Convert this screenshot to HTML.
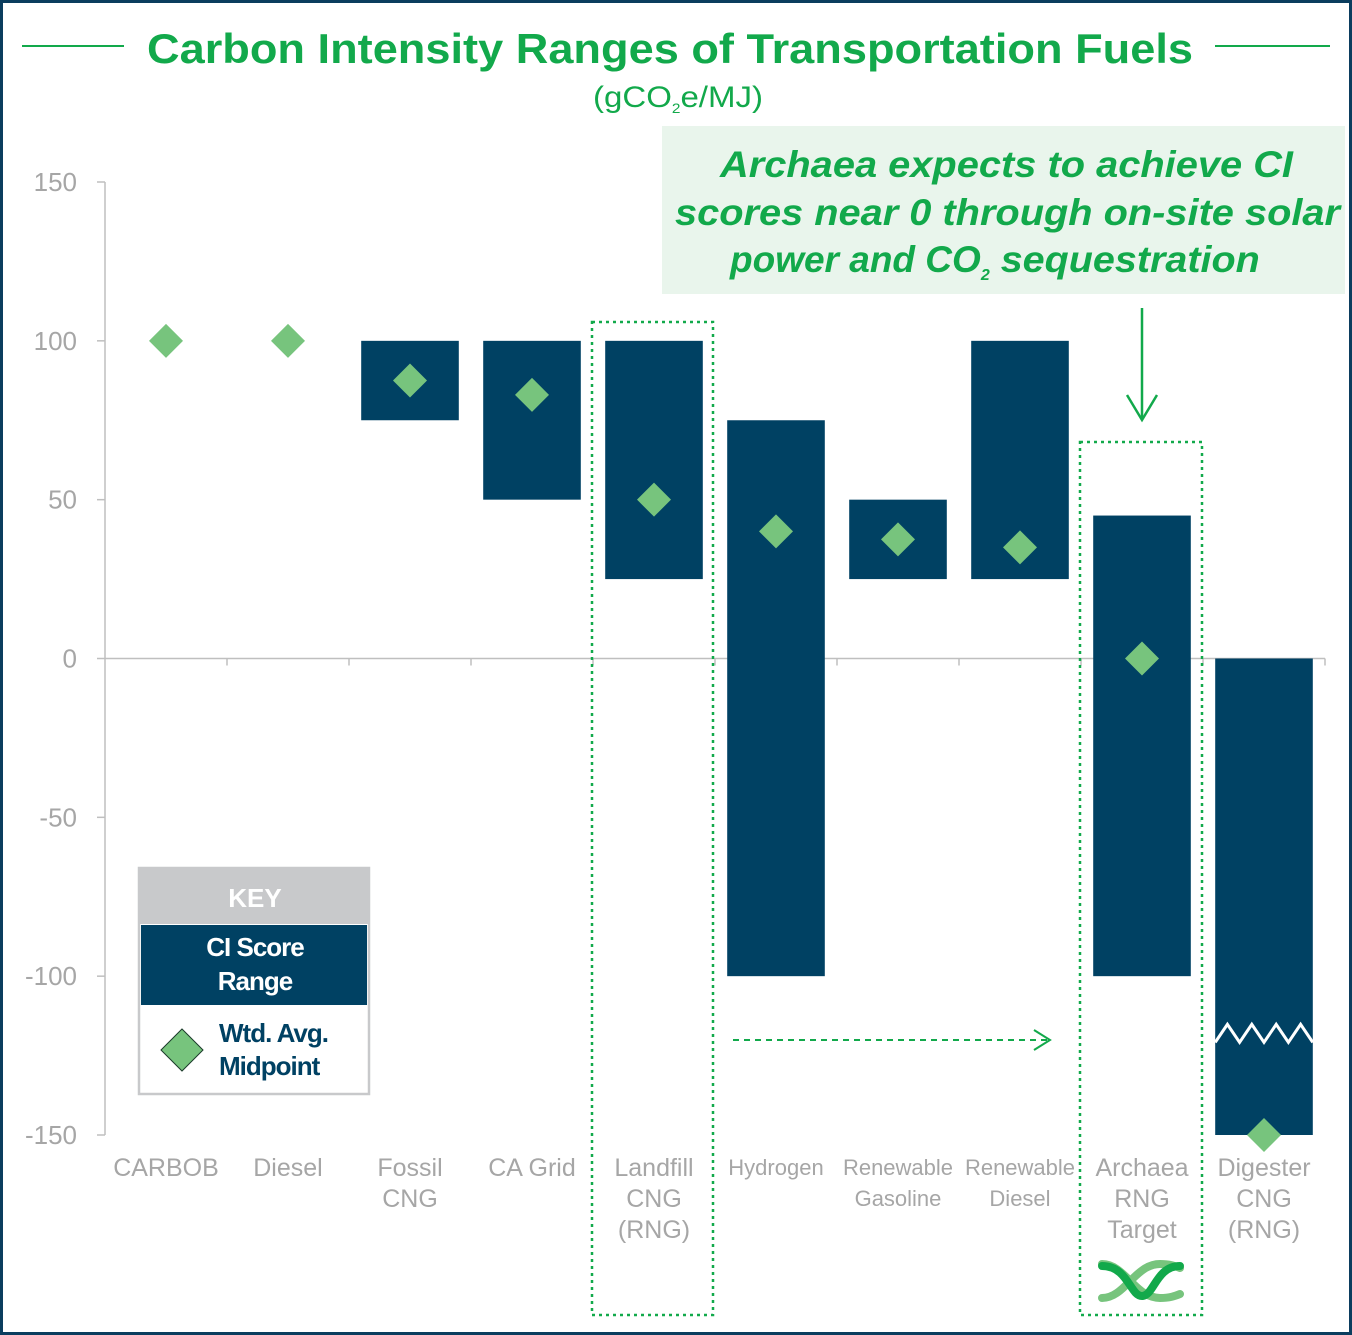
<!DOCTYPE html>
<html><head><meta charset="utf-8"><style>
html,body{margin:0;padding:0;background:#fff}
svg{display:block;font-family:"Liberation Sans",sans-serif}
</style></head><body>
<svg id="chart" width="1352" height="1335" viewBox="0 0 1352 1335" xmlns="http://www.w3.org/2000/svg">
<rect x="1.5" y="1.5" width="1349" height="1332" fill="#fff" stroke="#0b3d5e" stroke-width="3"/>
<line x1="22" y1="46" x2="124" y2="46" stroke="#12a94b" stroke-width="2"/>
<line x1="1215" y1="46" x2="1330" y2="46" stroke="#12a94b" stroke-width="2"/>
<text x="147" y="63" font-size="42" font-weight="bold" fill="#12a94b" textLength="1046" lengthAdjust="spacingAndGlyphs">Carbon Intensity Ranges of Transportation Fuels</text>
<text x="593" y="107" font-size="30" fill="#12a94b" textLength="170" lengthAdjust="spacingAndGlyphs">(gCO<tspan font-size="14" dy="6">2</tspan><tspan dy="-6">e/MJ)</tspan></text>
<rect x="662" y="126" width="683" height="168" fill="#e9f5ec"/>
<g font-size="37" font-weight="bold" font-style="italic" fill="#12a94b">
<text x="720" y="177" textLength="573" lengthAdjust="spacingAndGlyphs">Archaea expects to achieve CI</text>
<text x="675" y="225" textLength="665" lengthAdjust="spacingAndGlyphs">scores near 0 through on-site solar</text>
<text x="730" y="272">power and CO<tspan font-size="16" dy="8">2</tspan><tspan dy="-8" textLength="270" lengthAdjust="spacingAndGlyphs"> sequestration</tspan></text>
</g>
<g id="axes"></g>
<g id="marks"></g>
<rect x="592" y="322" width="121" height="993" fill="none" stroke="#12a94b" stroke-width="2.5" stroke-dasharray="3,4"/>
<rect x="1080" y="442" width="122" height="873" fill="none" stroke="#12a94b" stroke-width="2.5" stroke-dasharray="3,4"/>
<g stroke="#12a94b" stroke-width="2.5" fill="none">
<line x1="1142" y1="308" x2="1142" y2="420"/><polyline points="1127,395 1142,420 1157,395"/></g>
<g stroke="#12a94b" stroke-width="2" fill="none">
<line x1="733" y1="1040" x2="1048" y2="1040" stroke-dasharray="6,5"/><polyline points="1034,1030 1050,1040 1034,1050"/></g>
<g>
<rect x="139" y="868" width="230" height="226" fill="#fff" stroke="#c8c9cb" stroke-width="2.5"/>
<rect x="139" y="868" width="230" height="56" fill="#c8c9cb"/>
<text x="255" y="907" font-size="26" font-weight="bold" fill="#fff" text-anchor="middle">KEY</text>
<rect x="141" y="925" width="226" height="80" fill="#004163"/>
<text x="255" y="956" font-size="26" font-weight="bold" fill="#fff" text-anchor="middle" letter-spacing="-1">CI Score</text>
<text x="255" y="990" font-size="26" font-weight="bold" fill="#fff" text-anchor="middle" letter-spacing="-1">Range</text>
<polygon points="182,1029 203,1050 182,1071 161,1050" fill="#77c47d" stroke="#1a3a2a" stroke-width="1"/>
<text x="219" y="1042" font-size="26" font-weight="bold" fill="#004163" letter-spacing="-1">Wtd. Avg.</text>
<text x="219" y="1075" font-size="26" font-weight="bold" fill="#004163" letter-spacing="-1">Midpoint</text>
</g>
<g fill="none" stroke-width="8" stroke-linecap="round">
<path d="M1102,1298 C1125,1298 1135,1264 1160,1264 C1170,1264 1175,1266 1180,1268" stroke="#77c47d"/>
<path d="M1102,1264 C1125,1264 1135,1298 1160,1298 C1170,1298 1175,1296 1180,1294" stroke="#77c47d"/>
<path d="M1102,1266 C1128,1266 1130,1296 1142,1296 C1154,1296 1156,1266 1180,1266" stroke="#12a94b"/>
</g>
</svg>
<script>
const categories=[["CARBOB"],["Diesel"],["Fossil","CNG"],["CA Grid"],["Landfill","CNG","(RNG)"],["Hydrogen"],["Renewable","Gasoline"],["Renewable","Diesel"],["Archaea","RNG","Target"],["Digester","CNG","(RNG)"]];
const rangeLow=[null,null,75,50,25,-100,25,25,-100,-150];
const rangeHigh=[null,null,100,100,100,75,50,100,45,0];
const midpoints=[100,100,87.5,83,50,40,37.5,35,0,-150];
const yTicks=[150,100,50,0,-50,-100,-150];
const NS="http://www.w3.org/2000/svg";
const x0=105,x1=1325,yTop=182,yBot=1135;
const y=v=>yTop+(150-v)/300*(yBot-yTop);
const band=(x1-x0)/categories.length;
const cx=i=>x0+band*(i+0.5);
function mk(t,a,p){const e=document.createElementNS(NS,t);for(const k in a)e.setAttribute(k,a[k]);p.appendChild(e);return e;}
const axes=document.getElementById('axes'),marks=document.getElementById('marks');
let ya=mk('line',{x1:x0,y1:yTop,x2:x0,y2:yBot,stroke:'#bfbfbf','stroke-width':1.5},axes);


yTicks.forEach(v=>{
 let t=mk('line',{x1:x0-8,y1:y(v),x2:x0,y2:y(v),stroke:'#bfbfbf','stroke-width':1.5},axes);
 
 
 let l=mk('text',{x:77,y:y(v)+9,'font-size':26,fill:'#a6a6a6','text-anchor':'end'},axes);
 l.textContent=v;
 
 
});
let xa=mk('line',{x1:x0,y1:y(0),x2:x1,y2:y(0),stroke:'#bfbfbf','stroke-width':1.5},axes);


for(let i=1;i<=categories.length;i++){
 let t=mk('line',{x1:x0+band*i,y1:y(0),x2:x0+band*i,y2:y(0)+7,stroke:'#bfbfbf','stroke-width':1.5},axes);
 
 
}
const bw=band*0.8;
categories.forEach((c,i)=>{
 const small=c[0].startsWith('Renewable')||c[0]==='Hydrogen';
 let g=mk('text',{x:cx(i),y:1176,'font-size':small?22:25,fill:'#a6a6a6','text-anchor':'middle'},axes);
 
 
 c.forEach((s,k)=>{let ts=mk('tspan',{x:cx(i),dy:k?31:(small?-1:0)},g);ts.textContent=s;});
 if(rangeLow[i]!==null){
  let r=mk('rect',{x:cx(i)-bw/2,y:y(rangeHigh[i]),width:bw,height:y(rangeLow[i])-y(rangeHigh[i]),fill:'#004163'},marks);
  
  
 }
});
{const i=9,l=cx(i)-bw/2,zy=y(-118);let pts=[];for(let k=0;k<=8;k++)pts.push((l+k*bw/8)+','+(zy+(k%2?-9:9)));
let z=mk('polyline',{points:pts.join(' '),fill:'none',stroke:'#fff','stroke-width':3},marks);

}
midpoints.forEach((m,i)=>{
 const X=cx(i),Y=y(m),d=17;
 let p=mk('polygon',{points:`${X},${Y-d} ${X+d},${Y} ${X},${Y+d} ${X-d},${Y}`,fill:'#77c47d'},marks);
 
 
});
</script>
</body></html>
